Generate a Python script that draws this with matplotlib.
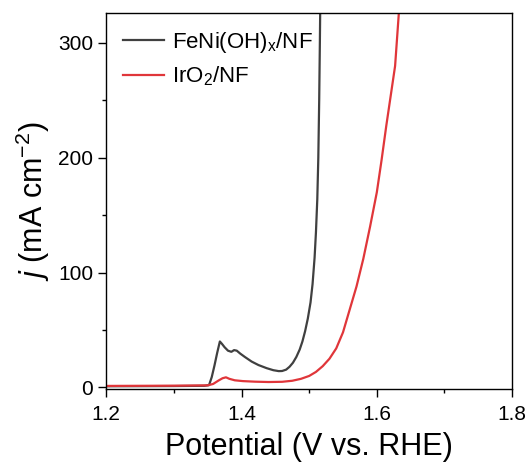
import matplotlib
matplotlib.use("Agg")
import matplotlib.pyplot as plt
from matplotlib.ticker import MultipleLocator

plt.rcParams['font.family'] = ['Liberation Sans', 'DejaVu Sans']
plt.rcParams['mathtext.fontset'] = 'custom'
plt.rcParams['mathtext.rm'] = 'Liberation Sans'
plt.rcParams['mathtext.it'] = 'Liberation Sans:italic'

# FeNi(OH)x/NF
v_feni = [1.20, 1.30, 1.345, 1.352, 1.356, 1.360, 1.364, 1.368, 1.371, 1.375,
          1.380, 1.385, 1.389, 1.393, 1.398, 1.405, 1.415, 1.425, 1.437, 1.447,
          1.455, 1.460, 1.466, 1.471, 1.476, 1.481, 1.486, 1.490, 1.494, 1.498,
          1.502, 1.505, 1.508, 1.510, 1.512, 1.5135, 1.5148, 1.5158, 1.5165]
j_feni = [1.0, 1.2, 1.4, 2, 9, 19, 30, 40, 38, 35,
          32, 31, 32.5, 32, 29.5, 26.5, 22.5, 19.5, 16.8, 15.0,
          14.2, 14.3, 15.5, 18, 21.5, 26.5, 33, 40, 49, 60,
          74, 90, 113, 135, 164, 200, 250, 300, 340]

# IrO2/NF
v_iro2 = [1.20, 1.30, 1.350, 1.358, 1.366, 1.372, 1.377, 1.382, 1.390, 1.402,
          1.420, 1.440, 1.460, 1.475, 1.488, 1.500, 1.510, 1.520, 1.530, 1.540,
          1.550, 1.560, 1.570, 1.580, 1.590, 1.600, 1.607, 1.614, 1.620, 1.627, 1.633]
j_iro2 = [1.3, 1.5, 1.8, 3, 6, 8, 8.8, 7.5, 6.2, 5.5,
          5.0, 4.7, 4.9, 5.8, 7.5, 10, 13.5, 18.5, 25, 34,
          48, 68, 88, 112, 140, 170, 198, 228, 252, 280, 330]

xticks = [1.2, 1.4, 1.6, 1.8]
yticks = [0, 100, 200, 300]

fig = plt.figure(figsize=(5.31, 4.68), dpi=100)
ax = fig.add_axes([0.2, 0.1685, 0.7645, 0.8035])

ax.plot(v_feni, j_feni, color='#404040', lw=1.6, label=r'FeNi(OH)$_\mathregular{x}$/NF')
ax.plot(v_iro2, j_iro2, color='#e0363a', lw=1.6, label=r'IrO$_\mathregular{2}$/NF')

ax.set_xlim(1.2, 1.8)
ax.set_ylim(-1.5, 326)
ax.set_xticks(xticks)
ax.set_yticks(yticks)
ax.xaxis.set_minor_locator(MultipleLocator(0.1))
ax.yaxis.set_minor_locator(MultipleLocator(50))
ax.tick_params(which='both', direction='out', labelsize=15, width=1.0)
ax.tick_params(which='major', length=5.5)
ax.tick_params(which='minor', length=3)
ax.tick_params(axis='x', which='major', pad=6)
ax.tick_params(axis='y', which='major', pad=4)
for s in ax.spines.values():
    s.set_linewidth(1.0)

ax.set_xlabel('Potential (V vs. RHE)', fontsize=22, labelpad=6)
ax.set_ylabel(r'$j$ (mA cm$^{-2}$)', fontsize=22, labelpad=4)

ax.legend(loc='upper left', frameon=False, fontsize=16, handlelength=1.85,
          handletextpad=0.35, borderaxespad=0.3, borderpad=0.45, labelspacing=0.45)

fig.savefig('out.png', dpi=100)
